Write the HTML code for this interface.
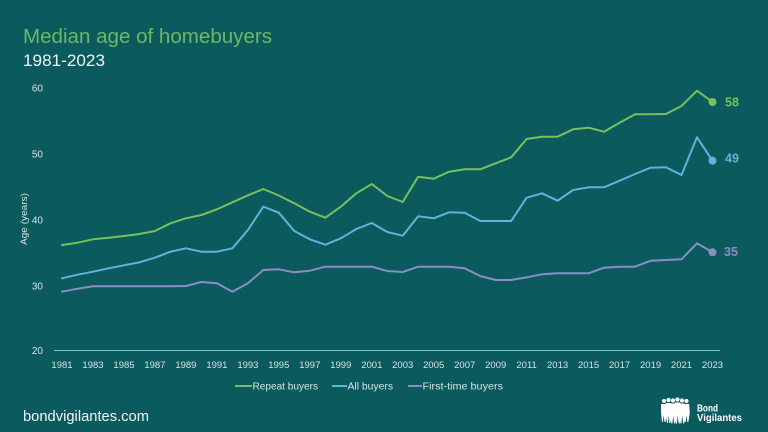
<!DOCTYPE html>
<html>
<head>
<meta charset="utf-8">
<style>
  html,body{margin:0;padding:0;background:#0b5a5e;}
  svg{display:block;}
  text{font-family:"Liberation Sans", sans-serif;}
</style>
</head>
<body>
<svg width="768" height="432" viewBox="0 0 768 432" xmlns="http://www.w3.org/2000/svg">
  <rect width="768" height="432" fill="#0b5a5e"/>

  <!-- Titles -->
  <text x="23" y="43" font-size="20" fill="#6cb865" textLength="249" lengthAdjust="spacingAndGlyphs">Median age of homebuyers</text>
  <text x="23" y="66" font-size="17" fill="#eef4f4" textLength="82" lengthAdjust="spacingAndGlyphs">1981-2023</text>

  <!-- Y axis labels -->
  <g font-size="10" fill="#d5e4e4" text-anchor="end">
    <text x="43" y="91.5">60</text>
    <text x="43" y="157.5">50</text>
    <text x="43" y="223.5">40</text>
    <text x="43" y="289.5">30</text>
    <text x="43" y="354">20</text>
  </g>
  <text transform="translate(27,219) rotate(-90)" font-size="9.5" fill="#d5e4e4" text-anchor="middle" textLength="52" lengthAdjust="spacingAndGlyphs">Age (years)</text>

  <!-- X axis line -->
  <line x1="54" y1="350.5" x2="720" y2="350.5" stroke="#8cc4c6" stroke-width="1"/>

  <!-- X tick labels -->
  <g font-size="9.5" fill="#d5e4e4" text-anchor="middle">
    <text x="62" y="368">1981</text>
    <text x="93" y="368">1983</text>
    <text x="124" y="368">1985</text>
    <text x="154.9" y="368">1987</text>
    <text x="185.9" y="368">1989</text>
    <text x="216.9" y="368">1991</text>
    <text x="247.9" y="368">1993</text>
    <text x="278.8" y="368">1995</text>
    <text x="309.8" y="368">1997</text>
    <text x="340.8" y="368">1999</text>
    <text x="371.8" y="368">2001</text>
    <text x="402.7" y="368">2003</text>
    <text x="433.7" y="368">2005</text>
    <text x="464.7" y="368">2007</text>
    <text x="495.7" y="368">2009</text>
    <text x="526.6" y="368">2011</text>
    <text x="557.6" y="368">2013</text>
    <text x="588.6" y="368">2015</text>
    <text x="619.6" y="368">2017</text>
    <text x="650.6" y="368">2019</text>
    <text x="681.5" y="368">2021</text>
    <text x="712.5" y="368">2023</text>
  </g>

  <!-- Series -->
  <g fill="none" stroke-width="2" stroke-linejoin="round" stroke-linecap="round">
    <polyline stroke="#8a8ec4" points="62,291.7 77.5,288.7 93,286.3 108.5,286.3 124,286.3 139.4,286.3 154.9,286.3 170.4,286.3 185.9,286 201.4,282 216.9,283.3 232.4,291.7 247.9,283.3 263.3,270 278.8,269.3 294.3,272.3 309.8,270.7 325.3,266.7 340.8,266.7 356.3,266.7 371.8,266.7 387.3,271 402.7,272 418.2,266.7 433.7,266.7 449.2,266.7 464.7,268.3 480.2,276 495.7,280 511.2,280 526.6,277.3 542.1,274.3 557.6,273.3 573.1,273.3 588.6,273.3 604.1,267.7 619.6,266.7 635.1,266.7 650.6,260.7 666,260 681.5,259.3 697,243.3 712.5,252.3"/>
    <polyline stroke="#5cb5dc" points="62,278.3 77.5,274.7 93,271.7 108.5,268.3 124,265.3 139.4,262.3 154.9,257.7 170.4,251.7 185.9,248.3 201.4,251.7 216.9,251.7 232.4,248.3 247.9,230 263.3,206.7 278.8,212.7 294.3,231 309.8,239.3 325.3,244.7 340.8,238.3 356.3,229 371.8,223 387.3,232 402.7,235.7 418.2,216.3 433.7,218.3 449.2,212.3 464.7,212.7 480.2,221 495.7,221 511.2,221 526.6,197.7 542.1,193.3 557.6,200.7 573.1,190 588.6,187.3 604.1,187.3 619.6,180.7 635.1,174 650.6,167.7 666,167.3 681.5,175 697,137.3 712.5,160.7"/>
    <polyline stroke="#77c15a" points="62,245 77.5,242.7 93,239.3 108.5,237.7 124,236 139.4,234 154.9,231 170.4,223.3 185.9,218.3 201.4,215 216.9,209.3 232.4,202.3 247.9,195.3 263.3,189 278.8,195.5 294.3,203.3 309.8,211.7 325.3,217.7 340.8,206.7 356.3,193.3 371.8,184 387.3,196 402.7,202 418.2,176.7 433.7,178.7 449.2,171.7 464.7,169.3 480.2,169.3 495.7,163.3 511.2,157.3 526.6,139 542.1,136.7 557.6,136.7 573.1,129.3 588.6,127.7 604.1,131.7 619.6,122.7 635.1,114.3 650.6,114.3 666,114 681.5,106 697,90.7 712.5,102"/>
  </g>

  <!-- End dots -->
  <circle cx="712.5" cy="102" r="4" fill="#77c15a"/>
  <circle cx="712.5" cy="160.7" r="4" fill="#5cb5dc"/>
  <circle cx="712.5" cy="252.3" r="4" fill="#8a8ec4"/>

  <!-- End labels -->
  <g font-size="12.5" font-weight="bold">
    <text x="725" y="106.3" fill="#77c15a">58</text>
    <text x="725" y="162.5" fill="#5cb5dc">49</text>
    <text x="724" y="256" fill="#8a8ec4">35</text>
  </g>

  <!-- Legend -->
  <line x1="235" y1="386" x2="252" y2="386" stroke="#77c15a" stroke-width="2"/>
  <text x="252.5" y="389.5" font-size="10" fill="#d5e4e4" textLength="65.5" lengthAdjust="spacingAndGlyphs">Repeat buyers</text>
  <line x1="332" y1="386" x2="347" y2="386" stroke="#5cb5dc" stroke-width="2"/>
  <text x="347.5" y="389.5" font-size="10" fill="#d5e4e4" textLength="45.5" lengthAdjust="spacingAndGlyphs">All buyers</text>
  <line x1="408" y1="386" x2="422" y2="386" stroke="#8a8ec4" stroke-width="2"/>
  <text x="422.5" y="389.5" font-size="10" fill="#d5e4e4" textLength="80.5" lengthAdjust="spacingAndGlyphs">First-time buyers</text>

  <!-- Footer -->
  <text x="23" y="421" font-size="15" fill="#f2f6f6" textLength="126" lengthAdjust="spacingAndGlyphs">bondvigilantes.com</text>

  <!-- Logo -->
  <g fill="#ffffff">
    <circle cx="664" cy="401" r="2"/>
    <circle cx="668.5" cy="400" r="2.1"/>
    <circle cx="673" cy="400.5" r="2.1"/>
    <circle cx="677.5" cy="399.5" r="2.1"/>
    <circle cx="682" cy="400.5" r="2.1"/>
    <circle cx="686.5" cy="401" r="2"/>
    <path d="M661,404 h5 l1,9 l-1.5,9 h-1 l-0.8,-7 l-0.8,7 h-1 l-0.8,-9 z"/>
    <path d="M665.8,403 h5.4 l0.8,10 l-1.6,10 h-1 l-0.7,-8 l-0.7,8 h-1 l-1.4,-10 z"/>
    <path d="M670.3,403.5 h5.4 l0.8,10 l-1.4,10 h-1 l-0.9,-8 l-0.8,8 h-1 l-1.5,-10 z"/>
    <path d="M674.8,402.5 h5.4 l0.8,10 l-1.4,11 h-1 l-0.9,-8 l-0.8,8 h-1 l-1.5,-11 z"/>
    <path d="M679.3,403.5 h5.4 l0.8,10 l-1.4,10 h-1 l-0.9,-8 l-0.8,8 h-1 l-1.5,-10 z"/>
    <path d="M683.8,404 h5.4 l0.6,9 l-1.5,9 h-1 l-0.8,-7 l-0.8,7 h-1 l-1.4,-9 z"/>
  </g>
  <text x="697" y="411.5" font-size="10" font-weight="bold" fill="#ffffff" textLength="21" lengthAdjust="spacingAndGlyphs">Bond</text>
  <text x="697" y="421" font-size="10" font-weight="bold" fill="#ffffff" textLength="45" lengthAdjust="spacingAndGlyphs">Vigilantes</text>
</svg>
</body>
</html>
